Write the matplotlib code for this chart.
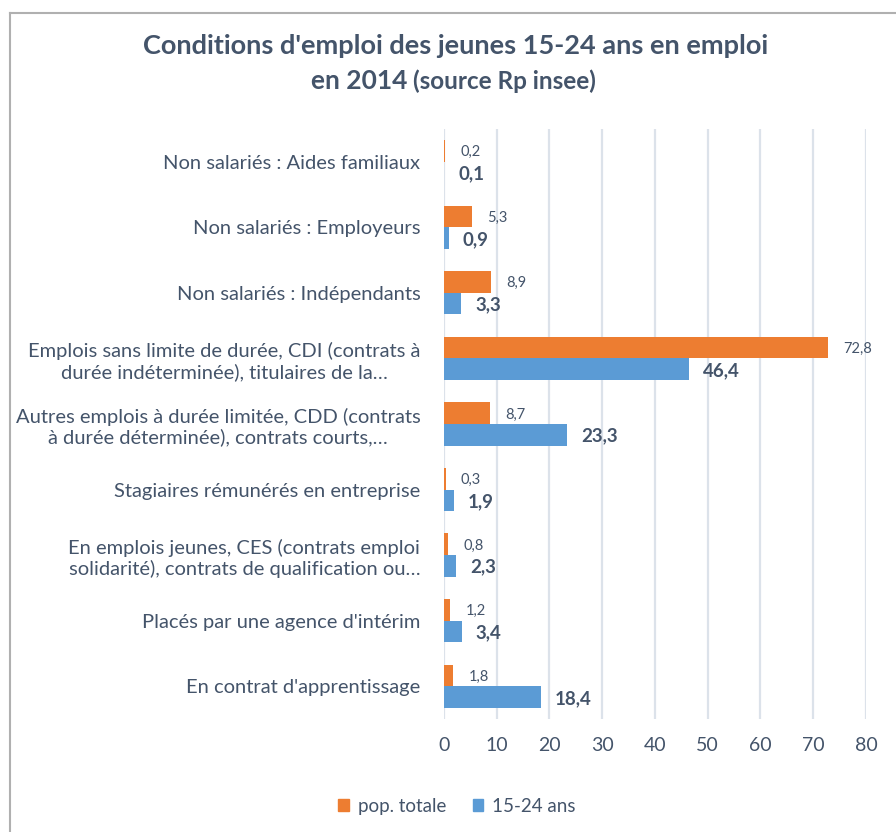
import matplotlib
matplotlib.use("Agg")
import matplotlib.pyplot as plt
from matplotlib.patches import Patch
from matplotlib.lines import Line2D
import numpy as np

plt.rcParams['font.family'] = ['Lato', 'DejaVu Sans']

# categories, top to bottom
categories = [
    "Non salariés : Aides familiaux",
    "Non salariés : Employeurs",
    "Non salariés : Indépendants",
    "Emplois sans limite de durée, CDI (contrats à\ndurée indéterminée), titulaires de la…",
    "Autres emplois à durée limitée, CDD (contrats\nà durée déterminée), contrats courts,…",
    "Stagiaires rémunérés en entreprise",
    "En emplois jeunes, CES (contrats emploi\nsolidarité), contrats de qualification ou…",
    "Placés par une agence d'intérim",
    "En contrat d'apprentissage",
]
pop_totale = [0.2, 5.3, 8.9, 72.8, 8.7, 0.3, 0.8, 1.2, 1.8]
jeunes = [0.1, 0.9, 3.3, 46.4, 23.3, 1.9, 2.3, 3.4, 18.4]
x_ticks = [0, 10, 20, 30, 40, 50, 60, 70, 80]

orange = '#ED7D31'
bleu = '#5B9BD5'
texte = '#44546A'
grille = '#DCE2EA'

def fmt(v):
    return f"{v:.1f}".replace('.', ',')

fig = plt.figure(figsize=(8.96, 8.32), dpi=100)
ax = fig.add_axes([0.4955, 0.1358, 0.4710, 0.7092])

y = np.arange(len(categories))
h = 0.33
ax.barh(y - h / 2, pop_totale, height=h, color=orange, label='pop. totale', zorder=2)
ax.barh(y + h / 2, jeunes, height=h, color=bleu, label='15-24 ans', zorder=2)

# etiquettes des valeurs
for i in range(len(categories)):
    ax.annotate(fmt(pop_totale[i]), (pop_totale[i], y[i] - h / 2 + 0.02),
                xytext=(11, 0), textcoords='offset points', va='center', ha='left',
                fontsize=10.5, color=texte)
    ax.annotate(fmt(jeunes[i]), (jeunes[i], y[i] + h / 2 + 0.02),
                xytext=(10, 0), textcoords='offset points', va='center', ha='left',
                fontsize=13.5, fontweight='bold', color=texte)

ax.set_xlim(0, 80)
ax.set_ylim(len(categories) - 0.5, -0.5)
ax.set_xticks(x_ticks)
ax.set_xticklabels([str(t) for t in x_ticks], fontsize=14)
ax.set_yticks(y)
ax.set_yticklabels(categories, multialignment='center', fontsize=14.5)
ax.tick_params(axis='both', length=0, colors=texte)
ax.tick_params(axis='y', pad=17)
ax.tick_params(axis='x', pad=13)
ax.grid(axis='x', color=grille, linewidth=1.6, zorder=0)
for s in ax.spines.values():
    s.set_visible(False)

# titre
fig.text(0.508, 0.945, "Conditions d'emploi des jeunes 15-24 ans en emploi",
         ha='center', va='center', fontsize=19.5, fontweight='bold', color=texte)
fig.text(407 / 896, 0.903, "en 2014", ha='right', va='center',
         fontsize=19, fontweight='bold', color=texte)
fig.text(413 / 896, 0.902, "(source Rp insee)", ha='left', va='center',
         fontsize=17.5, fontweight='bold', color=texte)

# legende
handles = [Patch(color=orange), Patch(color=bleu)]
fig.legend(handles, ['pop. totale', '15-24 ans'], loc='center', ncol=2,
           bbox_to_anchor=(0.51, 0.031), frameon=False, fontsize=13.5,
           handlelength=0.55, handleheight=0.55, handletextpad=0.5, columnspacing=1.4,
           labelcolor=texte)

# cadre gauche et haut
fig.add_artist(Line2D([9.5 / 896, 9.5 / 896], [0, 1 - 13 / 832], color='#B0B0B0', lw=1.5))
fig.add_artist(Line2D([9.5 / 896, 1], [1 - 13 / 832, 1 - 13 / 832], color='#B0B0B0', lw=1.5))

fig.savefig('out.png', dpi=100)
